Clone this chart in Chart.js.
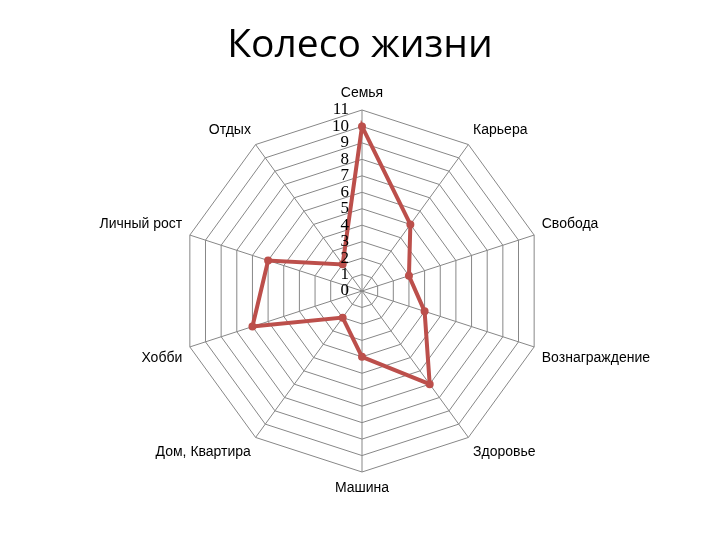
<!DOCTYPE html>
<html>
<head>
<meta charset="utf-8">
<script src="https://cdn.jsdelivr.net/npm/chart.js@4/dist/chart.umd.min.js"></script>
<style>
  html, body { margin: 0; padding: 0; background: #fff; }
  #wrap { width: 720px; height: 540px; position: relative; }
</style>
</head>
<body>
<div id="wrap"><canvas id="chart"></canvas></div>
<script>
// Данные колеса
const categories = ['Семья', 'Карьера', 'Свобода', 'Вознаграждение', 'Здоровье', 'Машина', 'Дом, Квартира', 'Хобби', 'Личный рост', 'Отдых'];
const values = [10, 5, 3, 4, 7, 4, 2, 7, 6, 2];
const tickValues = [0, 1, 2, 3, 4, 5, 6, 7, 8, 9, 10, 11];
const chartTitle = 'Колесо жизни';

const lineColor = '#bc4f4b';
const gridColor = '#878787';

// Заголовок по центру страницы (а не области графика)
const centerTitlePlugin = {
    id: 'centerTitle',
    afterDraw(chart) {
        const ctx = chart.ctx;
        ctx.save();
        ctx.font = '39px "Open Sans", sans-serif';
        ctx.fillStyle = '#000';
        ctx.textAlign = 'center';
        ctx.textBaseline = 'middle';
        ctx.fillText(chartTitle, chart.width / 2, 46);
        ctx.restore();
    }
};

// Подписи шкалы слева от вертикальной оси
const tickLabelsPlugin = {
    id: 'tickLabels',
    afterDraw(chart) {
        const scale = chart.scales.r;
        const ctx = chart.ctx;
        ctx.save();
        ctx.font = '17px "Liberation Serif", serif';
        ctx.fillStyle = '#000';
        ctx.textAlign = 'right';
        ctx.textBaseline = 'middle';
        tickValues.forEach(v => {
            const p = scale.getPointPositionForValue(0, v);
            ctx.fillText(String(v), p.x - 13, p.y);
        });
        ctx.restore();
    }
};

new Chart(document.getElementById('chart'), {
    type: 'radar',
    data: {
        labels: categories,
        datasets: [{
            data: values,
            borderColor: lineColor,
            backgroundColor: 'transparent',
            borderWidth: 4,
            pointRadius: 2,
            pointBackgroundColor: lineColor,
            pointBorderColor: lineColor,
            fill: false
        }]
    },
    options: {
        responsive: true,
        maintainAspectRatio: false,
        animation: false,
        layout: { padding: { top: 78, bottom: 35, left: 88, right: 56 } },
        plugins: {
            legend: { display: false },
            tooltip: { enabled: false },
            title: { display: false }
        },
        scales: {
            r: {
                min: 0,
                max: 11,
                ticks: { stepSize: 1, display: false },
                grid: { color: gridColor, lineWidth: 1 },
                angleLines: { color: gridColor, lineWidth: 1 },
                pointLabels: {
                    color: '#000',
                    padding: 8,
                    font: { family: '"Liberation Sans", sans-serif', size: 14 }
                }
            }
        }
    },
    plugins: [centerTitlePlugin, tickLabelsPlugin]
});
</script>
</body>
</html>
